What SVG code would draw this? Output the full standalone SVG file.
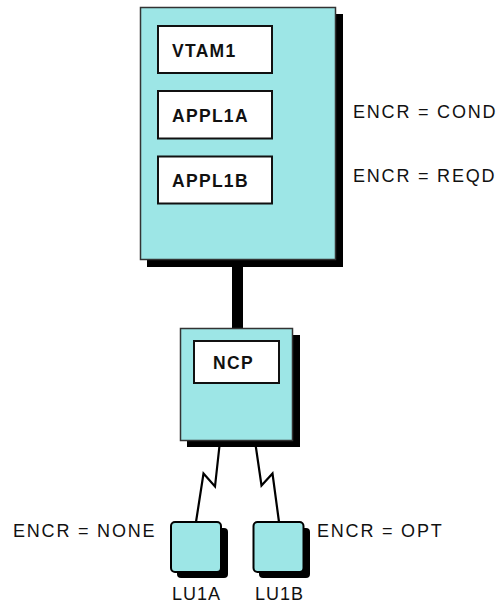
<svg xmlns="http://www.w3.org/2000/svg" width="497" height="607" viewBox="0 0 497 607">
<style>
.box{fill:#9de6e6;stroke:#333;stroke-width:1.5}
.sh{fill:#000}
.inner{fill:#fff;stroke:#111;stroke-width:2}
.lbl{font-family:"Liberation Sans",Arial,sans-serif;font-weight:bold;font-size:17.5px;letter-spacing:1.3px;fill:#111}
.txt{font-family:"Liberation Sans",Arial,sans-serif;font-size:18px;letter-spacing:1.8px;fill:#111}
.lu{fill:#9de6e6;stroke:#000;stroke-width:2}
.ln{fill:none;stroke:#000;stroke-width:2.2;stroke-linejoin:miter}
</style>
<rect width="497" height="607" fill="#fff"/>
<g id="connectors">
<rect x="232" y="260" width="11" height="70" fill="#000"/>
<polyline class="ln" points="220,441 215,486.5 203.5,473.5 196,522"/>
<polyline class="ln" points="255,441 261.5,485.5 272.5,473.5 279,522"/>
</g>
<g id="host">
<rect class="sh" x="147" y="14" width="196" height="253"/>
<rect class="box" x="140.5" y="7.5" width="195" height="252"/>
</g>
<g id="vtam1">
<rect class="inner" x="158" y="26" width="114" height="47"/>
<text class="lbl" x="172" y="57">VTAM1</text>
</g>
<g id="appl1a">
<rect class="inner" x="158" y="91" width="114" height="47.5"/>
<text class="lbl" x="172" y="122">APPL1A</text>
</g>
<g id="appl1b">
<rect class="inner" x="158" y="156.5" width="114" height="47"/>
<text class="lbl" x="172" y="187">APPL1B</text>
</g>
<text class="txt" x="353" y="118">ENCR = COND</text>
<text class="txt" x="353" y="182">ENCR = REQD</text>
<g id="ncp">
<rect class="sh" x="187" y="335" width="113" height="112"/>
<rect class="box" x="180.5" y="328.5" width="112" height="112"/>
<rect class="inner" x="194" y="341" width="85" height="42"/>
<text class="lbl" x="213" y="369">NCP</text>
</g>
<g id="lu1a">
<rect class="sh" x="177" y="528" width="51" height="50" rx="4"/>
<rect class="lu" x="171" y="522" width="50" height="50" rx="4"/>
<text class="txt" x="172" y="600" style="letter-spacing:1px">LU1A</text>
</g>
<g id="lu1b">
<rect class="sh" x="259" y="528" width="51" height="50" rx="4"/>
<rect class="lu" x="253.5" y="522" width="50" height="50" rx="4"/>
<text class="txt" x="255" y="600" style="letter-spacing:1px">LU1B</text>
</g>
<text class="txt" x="13" y="537">ENCR = NONE</text>
<text class="txt" x="317" y="537">ENCR = OPT</text>
</svg>
